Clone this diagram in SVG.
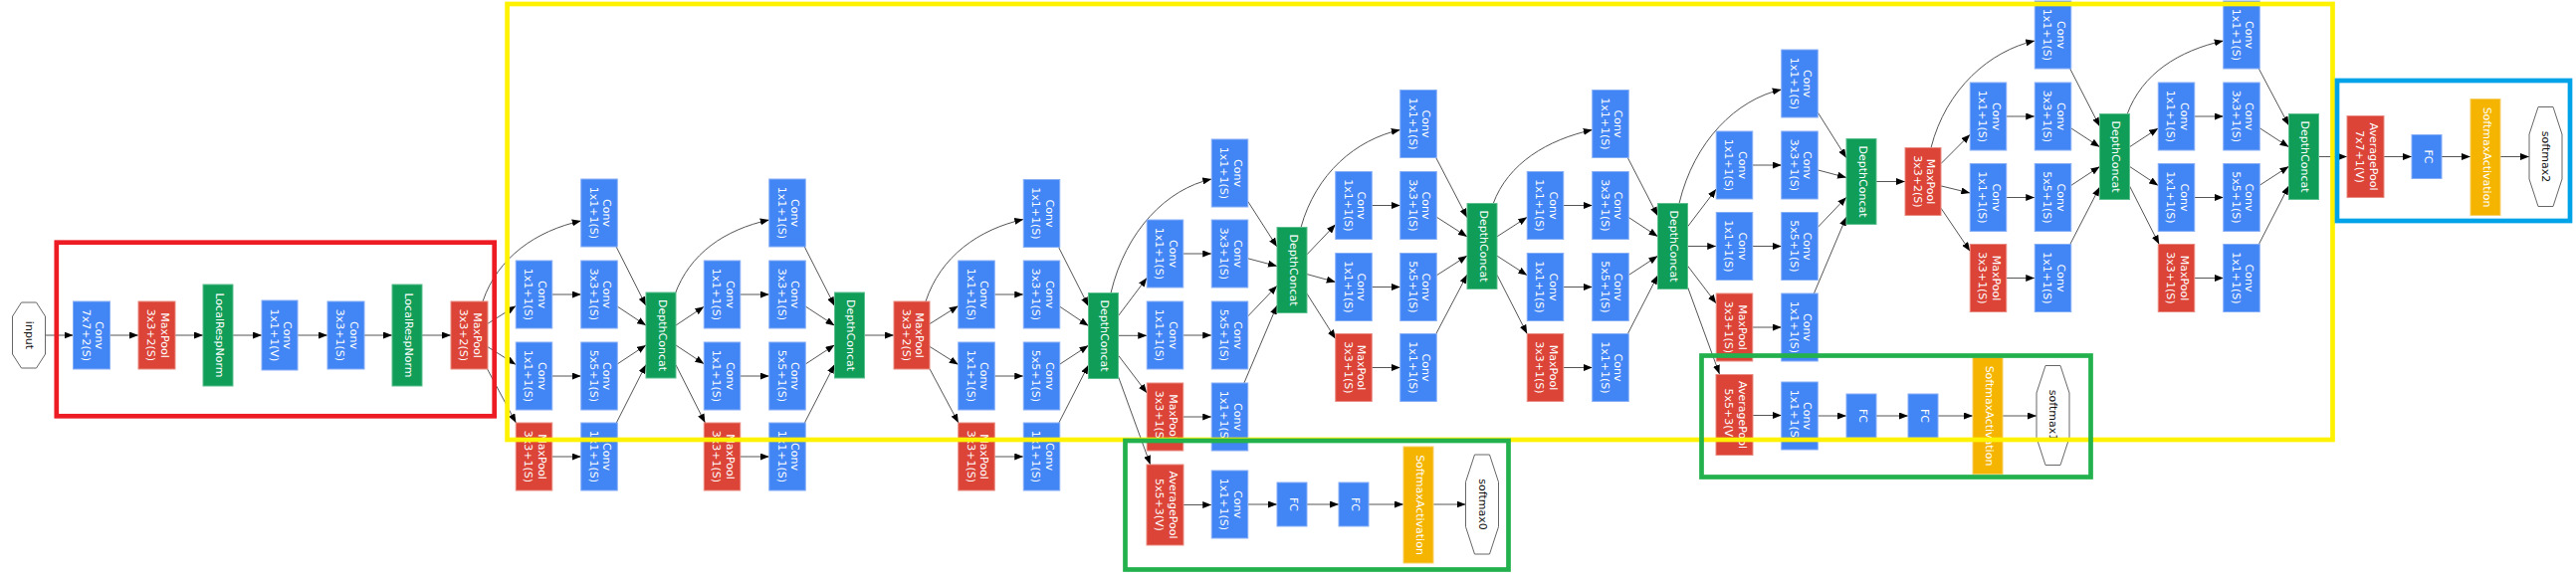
<svg xmlns="http://www.w3.org/2000/svg" width="2588" height="580" viewBox="0 0 2588 580">
<defs>
<style>
.conv{fill:#4285F4;stroke:#86AEF7;stroke-width:1}
.pool{fill:#DB4437;stroke:#E98A80;stroke-width:1}
.cat{fill:#0F9D58;stroke:#5DBE8E;stroke-width:1}
.sm{fill:#F4B400;stroke:#F8CF66;stroke-width:1}
.oct{fill:#fff;stroke:#666;stroke-width:1}
.t{font-family:"DejaVu Sans",Verdana,sans-serif;font-size:11px;fill:#fff;text-anchor:middle}
.to{fill:#111}
.e{fill:none;stroke:#555;stroke-width:1;marker-end:url(#a)}
.box{fill:none;stroke-width:4.7}
</style>
<marker id="a" markerWidth="9" markerHeight="7" refX="9" refY="3.5" orient="auto" markerUnits="userSpaceOnUse"><path d="M0,0L9,3.5L0,7z" fill="#000"/></marker>
<polygon id="oc66" points="-7.5,-33 7.5,-33 16.5,-19 16.5,19 7.5,33 -7.5,33 -16.5,19 -16.5,-19"/>
<polygon id="oc100" points="-7.5,-50 7.5,-50 16.5,-22.5 16.5,22.5 7.5,50 -7.5,50 -16.5,22.5 -16.5,-22.5"/>
</defs>
<rect width="2588" height="580" fill="#fff"/>

<g id="edges">
<path class="e" d="M45.5,337H73.5"/>
<path class="e" d="M110.5,337H139"/>
<path class="e" d="M176,337H204"/>
<path class="e" d="M234,337H263"/>
<path class="e" d="M299,337H329"/>
<path class="e" d="M366,337H394"/>
<path class="e" d="M424,337H453"/>
<path class="e" d="M490,325.3L518.25,307.5"/>
<path class="e" d="M490,348.7L518.25,366.5"/>
<path class="e" d="M489.6,371L518.4,425"/>
<path class="e" d="M485,303C500,258.5 538.75,232 583.75,222"/>
<path class="e" d="M554.75,296H583.75"/>
<path class="e" d="M554.75,378H583.75"/>
<path class="e" d="M554.75,459H583.75"/>
<path class="e" d="M619.1,248L649,307.2"/>
<path class="e" d="M620.25,308.1L649,327.1"/>
<path class="e" d="M620.25,365.9L649,346.9"/>
<path class="e" d="M619.3,425L649,366.5"/>
<path class="e" d="M679,327L707.25,308.2"/>
<path class="e" d="M679,347L707.25,365.8"/>
<path class="e" d="M679,366.8L708.4,425"/>
<path class="e" d="M678,296C693,254.75 727.75,231 772.75,221"/>
<path class="e" d="M743.75,296H772.75"/>
<path class="e" d="M743.75,378H772.75"/>
<path class="e" d="M743.75,459H772.75"/>
<path class="e" d="M808.3,248L838.5,307.5"/>
<path class="e" d="M809.25,308L838.5,327.2"/>
<path class="e" d="M809.25,366L838.5,346.8"/>
<path class="e" d="M808.4,425L838.5,366.3"/>
<path class="e" d="M868.5,337H898"/>
<path class="e" d="M934,325.6L962.75,307.5"/>
<path class="e" d="M934,348.4L962.75,366.5"/>
<path class="e" d="M934,370.8L962.9,425"/>
<path class="e" d="M930,303C945,257.6 983.25,230.5 1028.25,220.5"/>
<path class="e" d="M999.25,296H1028.25"/>
<path class="e" d="M999.25,378H1028.25"/>
<path class="e" d="M999.25,459H1028.25"/>
<path class="e" d="M1063.6,248.5L1093.5,307.7"/>
<path class="e" d="M1064.75,308.2L1093.5,327.5"/>
<path class="e" d="M1064.75,366.1L1093.5,347.3"/>
<path class="e" d="M1063.85,425L1093.5,366.9"/>
<path class="e" d="M1123.5,317.5L1152.25,279.3"/>
<path class="e" d="M1123.5,337.3H1152.25"/>
<path class="e" d="M1123.5,357.2L1152.25,395"/>
<path class="e" d="M1123.5,378.6L1155.7,467"/>
<path class="e" d="M1116,294.5C1131,231.5 1172.25,190 1217.25,180"/>
<path class="e" d="M1188.75,255H1217.25"/>
<path class="e" d="M1188.75,337H1217.25"/>
<path class="e" d="M1188.75,419H1217.25"/>
<path class="e" d="M1253.75,202.5L1283,248.1"/>
<path class="e" d="M1253.75,259.8L1283,267.5"/>
<path class="e" d="M1253.75,317.9L1283,287.2"/>
<path class="e" d="M1249.9,385L1283,306.9"/>
<path class="e" d="M1189,507.5H1217.25"/>
<path class="e" d="M1253.75,507H1283"/>
<path class="e" d="M1313,507H1345"/>
<path class="e" d="M1375,507H1410"/>
<path class="e" d="M1440,507H1472.5"/>
<path class="e" d="M1313,255.8L1341.75,225.6"/>
<path class="e" d="M1313,275.6L1341.75,283.5"/>
<path class="e" d="M1313,295.2L1341.75,340.6"/>
<path class="e" d="M1307,228.5C1322,174.6 1361.75,140.5 1406.75,130.5"/>
<path class="e" d="M1378.25,206.5H1406.75"/>
<path class="e" d="M1378.25,288.5H1406.75"/>
<path class="e" d="M1378.25,369.5H1406.75"/>
<path class="e" d="M1442.7,158.5L1474,218.7"/>
<path class="e" d="M1443.25,218.2L1474,237.9"/>
<path class="e" d="M1443.25,276.8L1474,257.1"/>
<path class="e" d="M1442.8,335.5L1474,276.1"/>
<path class="e" d="M1504,237.8L1534.25,218.3"/>
<path class="e" d="M1504,257.2L1534.25,276.7"/>
<path class="e" d="M1504,276.3L1534.2,335.5"/>
<path class="e" d="M1500,205C1515,164 1554.75,140.5 1599.75,130.5"/>
<path class="e" d="M1570.75,206.5H1599.75"/>
<path class="e" d="M1570.75,288.5H1599.75"/>
<path class="e" d="M1570.75,369.5H1599.75"/>
<path class="e" d="M1635.3,158.5L1665.5,217"/>
<path class="e" d="M1636.25,218.5L1665.5,237.7"/>
<path class="e" d="M1636.25,276.5L1665.5,257.3"/>
<path class="e" d="M1635.4,335.5L1665.5,276.8"/>
<path class="e" d="M1695.5,227.8L1724.25,190"/>
<path class="e" d="M1695.5,247.5H1724.25"/>
<path class="e" d="M1695.5,267.2L1724.25,305"/>
<path class="e" d="M1695.5,288.5L1727.5,376"/>
<path class="e" d="M1687,204.5C1702,141.5 1744.75,100 1789.75,90"/>
<path class="e" d="M1760.75,166H1789.75"/>
<path class="e" d="M1760.75,247.5H1789.75"/>
<path class="e" d="M1760.75,329H1789.75"/>
<path class="e" d="M1826.25,113L1855,158.7"/>
<path class="e" d="M1826.25,170.9L1855,178.5"/>
<path class="e" d="M1826.25,228.4L1855,198.2"/>
<path class="e" d="M1822.4,295L1855,217.9"/>
<path class="e" d="M1761,417.5H1789.75"/>
<path class="e" d="M1826.25,418H1855"/>
<path class="e" d="M1885,418H1917"/>
<path class="e" d="M1947,418H1982"/>
<path class="e" d="M2012,418H2046"/>
<path class="e" d="M1885,182.5H1914"/>
<path class="e" d="M1950,164.5L1979.25,135.2"/>
<path class="e" d="M1950,186.9L1979.25,194"/>
<path class="e" d="M1950,209.2L1979.25,252.5"/>
<path class="e" d="M1940,148.5C1955,89.4 1999.25,51 2044.25,41"/>
<path class="e" d="M2015.75,117H2044.25"/>
<path class="e" d="M2015.75,198.5H2044.25"/>
<path class="e" d="M2015.75,279.5H2044.25"/>
<path class="e" d="M2079.7,69L2109.5,127.1"/>
<path class="e" d="M2080.75,128.9L2109.5,147.7"/>
<path class="e" d="M2080.75,186.4L2109.5,167.4"/>
<path class="e" d="M2079.8,245.5L2109.5,188"/>
<path class="e" d="M2139.5,147.7L2168.25,128.9"/>
<path class="e" d="M2139.5,167.4L2168.25,186.4"/>
<path class="e" d="M2139.5,187L2169.2,245.5"/>
<path class="e" d="M2137,115C2152,74 2188.75,51 2233.75,41"/>
<path class="e" d="M2204.75,117H2233.75"/>
<path class="e" d="M2204.75,198.5H2233.75"/>
<path class="e" d="M2204.75,279.5H2233.75"/>
<path class="e" d="M2269.35,69L2299.5,126.1"/>
<path class="e" d="M2270.25,128.8L2299.5,147.8"/>
<path class="e" d="M2270.25,186.2L2299.5,167.2"/>
<path class="e" d="M2269.4,245.5L2299.5,186.8"/>
<path class="e" d="M2329.5,157.5H2358"/>
<path class="e" d="M2395,157.5H2423"/>
<path class="e" d="M2453,157.5H2482"/>
<path class="e" d="M2512,157.5H2541"/>
</g>

<g id="stem">
<g id="input"><use href="#oc66" class="oct" transform="translate(29,337)"/><text class="t to" transform="translate(29,337) rotate(90)" y="3.5">input</text></g>
<g id="conv1"><rect class="conv" x="73.5" y="303" width="37" height="68"/><text class="t" transform="translate(92,337) rotate(90)"><tspan x="0" y="-4.25">Conv</tspan><tspan x="0" y="9.25">7x7+2(S)</tspan></text></g>
<g id="pool1"><rect class="pool" x="139" y="303" width="37" height="68"/><text class="t" transform="translate(157.5,337) rotate(90)"><tspan x="0" y="-4.25">MaxPool</tspan><tspan x="0" y="9.25">3x3+2(S)</tspan></text></g>
<g id="lrn1"><rect class="cat" x="204" y="286" width="30" height="102"/><text class="t" transform="translate(219,337) rotate(90)" y="2.5">LocalRespNorm</text></g>
<g id="conv2"><rect class="conv" x="263" y="302" width="36" height="70"/><text class="t" transform="translate(281,337) rotate(90)"><tspan x="0" y="-4.25">Conv</tspan><tspan x="0" y="9.25">1x1+1(V)</tspan></text></g>
<g id="conv3"><rect class="conv" x="329" y="303" width="37" height="68"/><text class="t" transform="translate(347.5,337) rotate(90)"><tspan x="0" y="-4.25">Conv</tspan><tspan x="0" y="9.25">3x3+1(S)</tspan></text></g>
<g id="lrn2"><rect class="cat" x="394" y="286" width="30" height="102"/><text class="t" transform="translate(409,337) rotate(90)" y="2.5">LocalRespNorm</text></g>
<g id="pool2"><rect class="pool" x="453" y="303" width="37" height="68"/><text class="t" transform="translate(471.5,337) rotate(90)"><tspan x="0" y="-4.25">MaxPool</tspan><tspan x="0" y="9.25">3x3+2(S)</tspan></text></g>
</g>

<g id="inc3a">
<g id="i3a_b1"><rect class="conv" x="583.75" y="180" width="36.5" height="68"/><text class="t" transform="translate(602,214) rotate(90)"><tspan x="0" y="-4.25">Conv</tspan><tspan x="0" y="9.25">1x1+1(S)</tspan></text></g>
<g id="i3a_b2a"><rect class="conv" x="518.25" y="262" width="36.5" height="68"/><text class="t" transform="translate(536.5,296) rotate(90)"><tspan x="0" y="-4.25">Conv</tspan><tspan x="0" y="9.25">1x1+1(S)</tspan></text></g>
<g id="i3a_b2b"><rect class="conv" x="583.75" y="262" width="36.5" height="68"/><text class="t" transform="translate(602,296) rotate(90)"><tspan x="0" y="-4.25">Conv</tspan><tspan x="0" y="9.25">3x3+1(S)</tspan></text></g>
<g id="i3a_b3a"><rect class="conv" x="518.25" y="344" width="36.5" height="68"/><text class="t" transform="translate(536.5,378) rotate(90)"><tspan x="0" y="-4.25">Conv</tspan><tspan x="0" y="9.25">1x1+1(S)</tspan></text></g>
<g id="i3a_b3b"><rect class="conv" x="583.75" y="344" width="36.5" height="68"/><text class="t" transform="translate(602,378) rotate(90)"><tspan x="0" y="-4.25">Conv</tspan><tspan x="0" y="9.25">5x5+1(S)</tspan></text></g>
<g id="i3a_b4a"><rect class="pool" x="518.25" y="425" width="36.5" height="68"/><text class="t" transform="translate(536.5,459) rotate(90)"><tspan x="0" y="-4.25">MaxPool</tspan><tspan x="0" y="9.25">3x3+1(S)</tspan></text></g>
<g id="i3a_b4b"><rect class="conv" x="583.75" y="425" width="36.5" height="68"/><text class="t" transform="translate(602,459) rotate(90)"><tspan x="0" y="-4.25">Conv</tspan><tspan x="0" y="9.25">1x1+1(S)</tspan></text></g>
<g id="i3a_cat"><rect class="cat" x="649" y="294" width="30" height="86"/><text class="t" transform="translate(664,337) rotate(90)" y="2.5">DepthConcat</text></g>
</g>

<g id="inc3b">
<g id="i3b_b1"><rect class="conv" x="772.75" y="180" width="36.5" height="68"/><text class="t" transform="translate(791,214) rotate(90)"><tspan x="0" y="-4.25">Conv</tspan><tspan x="0" y="9.25">1x1+1(S)</tspan></text></g>
<g id="i3b_b2a"><rect class="conv" x="707.25" y="262" width="36.5" height="68"/><text class="t" transform="translate(725.5,296) rotate(90)"><tspan x="0" y="-4.25">Conv</tspan><tspan x="0" y="9.25">1x1+1(S)</tspan></text></g>
<g id="i3b_b2b"><rect class="conv" x="772.75" y="262" width="36.5" height="68"/><text class="t" transform="translate(791,296) rotate(90)"><tspan x="0" y="-4.25">Conv</tspan><tspan x="0" y="9.25">3x3+1(S)</tspan></text></g>
<g id="i3b_b3a"><rect class="conv" x="707.25" y="344" width="36.5" height="68"/><text class="t" transform="translate(725.5,378) rotate(90)"><tspan x="0" y="-4.25">Conv</tspan><tspan x="0" y="9.25">1x1+1(S)</tspan></text></g>
<g id="i3b_b3b"><rect class="conv" x="772.75" y="344" width="36.5" height="68"/><text class="t" transform="translate(791,378) rotate(90)"><tspan x="0" y="-4.25">Conv</tspan><tspan x="0" y="9.25">5x5+1(S)</tspan></text></g>
<g id="i3b_b4a"><rect class="pool" x="707.25" y="425" width="36.5" height="68"/><text class="t" transform="translate(725.5,459) rotate(90)"><tspan x="0" y="-4.25">MaxPool</tspan><tspan x="0" y="9.25">3x3+1(S)</tspan></text></g>
<g id="i3b_b4b"><rect class="conv" x="772.75" y="425" width="36.5" height="68"/><text class="t" transform="translate(791,459) rotate(90)"><tspan x="0" y="-4.25">Conv</tspan><tspan x="0" y="9.25">1x1+1(S)</tspan></text></g>
<g id="i3b_cat"><rect class="cat" x="838.5" y="294" width="30" height="86"/><text class="t" transform="translate(853.5,337) rotate(90)" y="2.5">DepthConcat</text></g>
</g>

<g id="pool3"><rect class="pool" x="898" y="303" width="36" height="68"/><text class="t" transform="translate(916,337) rotate(90)"><tspan x="0" y="-4.25">MaxPool</tspan><tspan x="0" y="9.25">3x3+2(S)</tspan></text></g>

<g id="inc4a">
<g id="i4a_b1"><rect class="conv" x="1028.25" y="180.5" width="36.5" height="68"/><text class="t" transform="translate(1046.5,214.5) rotate(90)"><tspan x="0" y="-4.25">Conv</tspan><tspan x="0" y="9.25">1x1+1(S)</tspan></text></g>
<g id="i4a_b2a"><rect class="conv" x="962.75" y="262" width="36.5" height="68"/><text class="t" transform="translate(981,296) rotate(90)"><tspan x="0" y="-4.25">Conv</tspan><tspan x="0" y="9.25">1x1+1(S)</tspan></text></g>
<g id="i4a_b2b"><rect class="conv" x="1028.25" y="262" width="36.5" height="68"/><text class="t" transform="translate(1046.5,296) rotate(90)"><tspan x="0" y="-4.25">Conv</tspan><tspan x="0" y="9.25">3x3+1(S)</tspan></text></g>
<g id="i4a_b3a"><rect class="conv" x="962.75" y="344" width="36.5" height="68"/><text class="t" transform="translate(981,378) rotate(90)"><tspan x="0" y="-4.25">Conv</tspan><tspan x="0" y="9.25">1x1+1(S)</tspan></text></g>
<g id="i4a_b3b"><rect class="conv" x="1028.25" y="344" width="36.5" height="68"/><text class="t" transform="translate(1046.5,378) rotate(90)"><tspan x="0" y="-4.25">Conv</tspan><tspan x="0" y="9.25">5x5+1(S)</tspan></text></g>
<g id="i4a_b4a"><rect class="pool" x="962.75" y="425" width="36.5" height="68"/><text class="t" transform="translate(981,459) rotate(90)"><tspan x="0" y="-4.25">MaxPool</tspan><tspan x="0" y="9.25">3x3+1(S)</tspan></text></g>
<g id="i4a_b4b"><rect class="conv" x="1028.25" y="425" width="36.5" height="68"/><text class="t" transform="translate(1046.5,459) rotate(90)"><tspan x="0" y="-4.25">Conv</tspan><tspan x="0" y="9.25">1x1+1(S)</tspan></text></g>
<g id="i4a_cat"><rect class="cat" x="1093.5" y="294.5" width="30" height="86"/><text class="t" transform="translate(1108.5,337.5) rotate(90)" y="2.5">DepthConcat</text></g>
</g>

<g id="inc4b">
<g id="i4b_b1"><rect class="conv" x="1217.25" y="140" width="36.5" height="68"/><text class="t" transform="translate(1235.5,174) rotate(90)"><tspan x="0" y="-4.25">Conv</tspan><tspan x="0" y="9.25">1x1+1(S)</tspan></text></g>
<g id="i4b_b2a"><rect class="conv" x="1152.25" y="221" width="36.5" height="68"/><text class="t" transform="translate(1170.5,255) rotate(90)"><tspan x="0" y="-4.25">Conv</tspan><tspan x="0" y="9.25">1x1+1(S)</tspan></text></g>
<g id="i4b_b2b"><rect class="conv" x="1217.25" y="221" width="36.5" height="68"/><text class="t" transform="translate(1235.5,255) rotate(90)"><tspan x="0" y="-4.25">Conv</tspan><tspan x="0" y="9.25">3x3+1(S)</tspan></text></g>
<g id="i4b_b3a"><rect class="conv" x="1152.25" y="303" width="36.5" height="68"/><text class="t" transform="translate(1170.5,337) rotate(90)"><tspan x="0" y="-4.25">Conv</tspan><tspan x="0" y="9.25">1x1+1(S)</tspan></text></g>
<g id="i4b_b3b"><rect class="conv" x="1217.25" y="303" width="36.5" height="68"/><text class="t" transform="translate(1235.5,337) rotate(90)"><tspan x="0" y="-4.25">Conv</tspan><tspan x="0" y="9.25">5x5+1(S)</tspan></text></g>
<g id="i4b_b4a"><rect class="pool" x="1152.25" y="385" width="36.5" height="68"/><text class="t" transform="translate(1170.5,419) rotate(90)"><tspan x="0" y="-4.25">MaxPool</tspan><tspan x="0" y="9.25">3x3+1(S)</tspan></text></g>
<g id="i4b_b4b"><rect class="conv" x="1217.25" y="385" width="36.5" height="68"/><text class="t" transform="translate(1235.5,419) rotate(90)"><tspan x="0" y="-4.25">Conv</tspan><tspan x="0" y="9.25">1x1+1(S)</tspan></text></g>
<g id="i4b_cat"><rect class="cat" x="1283" y="228.5" width="30" height="86"/><text class="t" transform="translate(1298,271.5) rotate(90)" y="2.5">DepthConcat</text></g>
</g>

<g id="aux0">
<g id="aux0_avg"><rect class="pool" x="1152" y="467" width="37" height="81"/><text class="t" transform="translate(1170.5,507.5) rotate(90)"><tspan x="0" y="-4.25">AveragePool</tspan><tspan x="0" y="9.25">5x5+3(V)</tspan></text></g>
<g id="aux0_conv"><rect class="conv" x="1217.25" y="473" width="36.5" height="68"/><text class="t" transform="translate(1235.5,507) rotate(90)"><tspan x="0" y="-4.25">Conv</tspan><tspan x="0" y="9.25">1x1+1(S)</tspan></text></g>
<g id="aux0_fc1"><rect class="conv" x="1283" y="485" width="30" height="44"/><text class="t" transform="translate(1298,507) rotate(90)" y="2.5">FC</text></g>
<g id="aux0_fc2"><rect class="conv" x="1345" y="485" width="30" height="44"/><text class="t" transform="translate(1360,507) rotate(90)" y="2.5">FC</text></g>
<g id="aux0_sa"><rect class="sm" x="1410" y="449" width="30" height="117"/><text class="t" transform="translate(1425,507.5) rotate(90)" y="2.5">SoftmaxActivation</text></g>
<g id="softmax0"><use href="#oc100" class="oct" transform="translate(1489,507)"/><text class="t to" transform="translate(1489,507) rotate(90)" y="3.5">softmax0</text></g>
</g>

<g id="inc4c">
<g id="i4c_b1"><rect class="conv" x="1406.75" y="90.5" width="36.5" height="68"/><text class="t" transform="translate(1425,124.5) rotate(90)"><tspan x="0" y="-4.25">Conv</tspan><tspan x="0" y="9.25">1x1+1(S)</tspan></text></g>
<g id="i4c_b2a"><rect class="conv" x="1341.75" y="172.5" width="36.5" height="68"/><text class="t" transform="translate(1360,206.5) rotate(90)"><tspan x="0" y="-4.25">Conv</tspan><tspan x="0" y="9.25">1x1+1(S)</tspan></text></g>
<g id="i4c_b2b"><rect class="conv" x="1406.75" y="172.5" width="36.5" height="68"/><text class="t" transform="translate(1425,206.5) rotate(90)"><tspan x="0" y="-4.25">Conv</tspan><tspan x="0" y="9.25">3x3+1(S)</tspan></text></g>
<g id="i4c_b3a"><rect class="conv" x="1341.75" y="254.5" width="36.5" height="68"/><text class="t" transform="translate(1360,288.5) rotate(90)"><tspan x="0" y="-4.25">Conv</tspan><tspan x="0" y="9.25">1x1+1(S)</tspan></text></g>
<g id="i4c_b3b"><rect class="conv" x="1406.75" y="254.5" width="36.5" height="68"/><text class="t" transform="translate(1425,288.5) rotate(90)"><tspan x="0" y="-4.25">Conv</tspan><tspan x="0" y="9.25">5x5+1(S)</tspan></text></g>
<g id="i4c_b4a"><rect class="pool" x="1341.75" y="335.5" width="36.5" height="68"/><text class="t" transform="translate(1360,369.5) rotate(90)"><tspan x="0" y="-4.25">MaxPool</tspan><tspan x="0" y="9.25">3x3+1(S)</tspan></text></g>
<g id="i4c_b4b"><rect class="conv" x="1406.75" y="335.5" width="36.5" height="68"/><text class="t" transform="translate(1425,369.5) rotate(90)"><tspan x="0" y="-4.25">Conv</tspan><tspan x="0" y="9.25">1x1+1(S)</tspan></text></g>
<g id="i4c_cat"><rect class="cat" x="1474" y="204.5" width="30" height="86"/><text class="t" transform="translate(1489,247.5) rotate(90)" y="2.5">DepthConcat</text></g>
</g>

<g id="inc4d">
<g id="i4d_b1"><rect class="conv" x="1599.75" y="90.5" width="36.5" height="68"/><text class="t" transform="translate(1618,124.5) rotate(90)"><tspan x="0" y="-4.25">Conv</tspan><tspan x="0" y="9.25">1x1+1(S)</tspan></text></g>
<g id="i4d_b2a"><rect class="conv" x="1534.25" y="172.5" width="36.5" height="68"/><text class="t" transform="translate(1552.5,206.5) rotate(90)"><tspan x="0" y="-4.25">Conv</tspan><tspan x="0" y="9.25">1x1+1(S)</tspan></text></g>
<g id="i4d_b2b"><rect class="conv" x="1599.75" y="172.5" width="36.5" height="68"/><text class="t" transform="translate(1618,206.5) rotate(90)"><tspan x="0" y="-4.25">Conv</tspan><tspan x="0" y="9.25">3x3+1(S)</tspan></text></g>
<g id="i4d_b3a"><rect class="conv" x="1534.25" y="254.5" width="36.5" height="68"/><text class="t" transform="translate(1552.5,288.5) rotate(90)"><tspan x="0" y="-4.25">Conv</tspan><tspan x="0" y="9.25">1x1+1(S)</tspan></text></g>
<g id="i4d_b3b"><rect class="conv" x="1599.75" y="254.5" width="36.5" height="68"/><text class="t" transform="translate(1618,288.5) rotate(90)"><tspan x="0" y="-4.25">Conv</tspan><tspan x="0" y="9.25">5x5+1(S)</tspan></text></g>
<g id="i4d_b4a"><rect class="pool" x="1534.25" y="335.5" width="36.5" height="68"/><text class="t" transform="translate(1552.5,369.5) rotate(90)"><tspan x="0" y="-4.25">MaxPool</tspan><tspan x="0" y="9.25">3x3+1(S)</tspan></text></g>
<g id="i4d_b4b"><rect class="conv" x="1599.75" y="335.5" width="36.5" height="68"/><text class="t" transform="translate(1618,369.5) rotate(90)"><tspan x="0" y="-4.25">Conv</tspan><tspan x="0" y="9.25">1x1+1(S)</tspan></text></g>
<g id="i4d_cat"><rect class="cat" x="1665.5" y="204.5" width="30" height="86"/><text class="t" transform="translate(1680.5,247.5) rotate(90)" y="2.5">DepthConcat</text></g>
</g>

<g id="inc4e">
<g id="i4e_b1"><rect class="conv" x="1789.75" y="50" width="36.5" height="68"/><text class="t" transform="translate(1808,84) rotate(90)"><tspan x="0" y="-4.25">Conv</tspan><tspan x="0" y="9.25">1x1+1(S)</tspan></text></g>
<g id="i4e_b2a"><rect class="conv" x="1724.25" y="132" width="36.5" height="68"/><text class="t" transform="translate(1742.5,166) rotate(90)"><tspan x="0" y="-4.25">Conv</tspan><tspan x="0" y="9.25">1x1+1(S)</tspan></text></g>
<g id="i4e_b2b"><rect class="conv" x="1789.75" y="132" width="36.5" height="68"/><text class="t" transform="translate(1808,166) rotate(90)"><tspan x="0" y="-4.25">Conv</tspan><tspan x="0" y="9.25">3x3+1(S)</tspan></text></g>
<g id="i4e_b3a"><rect class="conv" x="1724.25" y="213.5" width="36.5" height="68"/><text class="t" transform="translate(1742.5,247.5) rotate(90)"><tspan x="0" y="-4.25">Conv</tspan><tspan x="0" y="9.25">1x1+1(S)</tspan></text></g>
<g id="i4e_b3b"><rect class="conv" x="1789.75" y="213.5" width="36.5" height="68"/><text class="t" transform="translate(1808,247.5) rotate(90)"><tspan x="0" y="-4.25">Conv</tspan><tspan x="0" y="9.25">5x5+1(S)</tspan></text></g>
<g id="i4e_b4a"><rect class="pool" x="1724.25" y="295" width="36.5" height="68"/><text class="t" transform="translate(1742.5,329) rotate(90)"><tspan x="0" y="-4.25">MaxPool</tspan><tspan x="0" y="9.25">3x3+1(S)</tspan></text></g>
<g id="i4e_b4b"><rect class="conv" x="1789.75" y="295" width="36.5" height="68"/><text class="t" transform="translate(1808,329) rotate(90)"><tspan x="0" y="-4.25">Conv</tspan><tspan x="0" y="9.25">1x1+1(S)</tspan></text></g>
<g id="i4e_cat"><rect class="cat" x="1855" y="139.5" width="30" height="86"/><text class="t" transform="translate(1870,182.5) rotate(90)" y="2.5">DepthConcat</text></g>
</g>

<g id="aux1">
<g id="aux1_avg"><rect class="pool" x="1724" y="376.5" width="37" height="81"/><text class="t" transform="translate(1742.5,417) rotate(90)"><tspan x="0" y="-4.25">AveragePool</tspan><tspan x="0" y="9.25">5x5+3(V)</tspan></text></g>
<g id="aux1_conv"><rect class="conv" x="1789.75" y="384" width="36.5" height="68"/><text class="t" transform="translate(1808,418) rotate(90)"><tspan x="0" y="-4.25">Conv</tspan><tspan x="0" y="9.25">1x1+1(S)</tspan></text></g>
<g id="aux1_fc1"><rect class="conv" x="1855" y="396" width="30" height="44"/><text class="t" transform="translate(1870,418) rotate(90)" y="2.5">FC</text></g>
<g id="aux1_fc2"><rect class="conv" x="1917" y="396" width="30" height="44"/><text class="t" transform="translate(1932,418) rotate(90)" y="2.5">FC</text></g>
<g id="aux1_sa"><rect class="sm" x="1982" y="359.5" width="30" height="117"/><text class="t" transform="translate(1997,418) rotate(90)" y="2.5">SoftmaxActivation</text></g>
<g id="softmax1"><use href="#oc100" class="oct" transform="translate(2062.5,417.5)"/><text class="t to" transform="translate(2062.5,417.5) rotate(90)" y="3.5">softmax1</text></g>
</g>

<g id="pool4"><rect class="pool" x="1914" y="148.5" width="36" height="68"/><text class="t" transform="translate(1932,182.5) rotate(90)"><tspan x="0" y="-4.25">MaxPool</tspan><tspan x="0" y="9.25">3x3+2(S)</tspan></text></g>

<g id="inc5a">
<g id="i5a_b1"><rect class="conv" x="2044.25" y="1" width="36.5" height="68"/><text class="t" transform="translate(2062.5,35) rotate(90)"><tspan x="0" y="-4.25">Conv</tspan><tspan x="0" y="9.25">1x1+1(S)</tspan></text></g>
<g id="i5a_b2a"><rect class="conv" x="1979.25" y="83" width="36.5" height="68"/><text class="t" transform="translate(1997.5,117) rotate(90)"><tspan x="0" y="-4.25">Conv</tspan><tspan x="0" y="9.25">1x1+1(S)</tspan></text></g>
<g id="i5a_b2b"><rect class="conv" x="2044.25" y="83" width="36.5" height="68"/><text class="t" transform="translate(2062.5,117) rotate(90)"><tspan x="0" y="-4.25">Conv</tspan><tspan x="0" y="9.25">3x3+1(S)</tspan></text></g>
<g id="i5a_b3a"><rect class="conv" x="1979.25" y="164.5" width="36.5" height="68"/><text class="t" transform="translate(1997.5,198.5) rotate(90)"><tspan x="0" y="-4.25">Conv</tspan><tspan x="0" y="9.25">1x1+1(S)</tspan></text></g>
<g id="i5a_b3b"><rect class="conv" x="2044.25" y="164.5" width="36.5" height="68"/><text class="t" transform="translate(2062.5,198.5) rotate(90)"><tspan x="0" y="-4.25">Conv</tspan><tspan x="0" y="9.25">5x5+1(S)</tspan></text></g>
<g id="i5a_b4a"><rect class="pool" x="1979.25" y="245.5" width="36.5" height="68"/><text class="t" transform="translate(1997.5,279.5) rotate(90)"><tspan x="0" y="-4.25">MaxPool</tspan><tspan x="0" y="9.25">3x3+1(S)</tspan></text></g>
<g id="i5a_b4b"><rect class="conv" x="2044.25" y="245.5" width="36.5" height="68"/><text class="t" transform="translate(2062.5,279.5) rotate(90)"><tspan x="0" y="-4.25">Conv</tspan><tspan x="0" y="9.25">1x1+1(S)</tspan></text></g>
<g id="i5a_cat"><rect class="cat" x="2109.5" y="114.5" width="30" height="86"/><text class="t" transform="translate(2124.5,157.5) rotate(90)" y="2.5">DepthConcat</text></g>
</g>

<g id="inc5b">
<g id="i5b_b1"><rect class="conv" x="2233.75" y="1" width="36.5" height="68"/><text class="t" transform="translate(2252,35) rotate(90)"><tspan x="0" y="-4.25">Conv</tspan><tspan x="0" y="9.25">1x1+1(S)</tspan></text></g>
<g id="i5b_b2a"><rect class="conv" x="2168.25" y="83" width="36.5" height="68"/><text class="t" transform="translate(2186.5,117) rotate(90)"><tspan x="0" y="-4.25">Conv</tspan><tspan x="0" y="9.25">1x1+1(S)</tspan></text></g>
<g id="i5b_b2b"><rect class="conv" x="2233.75" y="83" width="36.5" height="68"/><text class="t" transform="translate(2252,117) rotate(90)"><tspan x="0" y="-4.25">Conv</tspan><tspan x="0" y="9.25">3x3+1(S)</tspan></text></g>
<g id="i5b_b3a"><rect class="conv" x="2168.25" y="164.5" width="36.5" height="68"/><text class="t" transform="translate(2186.5,198.5) rotate(90)"><tspan x="0" y="-4.25">Conv</tspan><tspan x="0" y="9.25">1x1+1(S)</tspan></text></g>
<g id="i5b_b3b"><rect class="conv" x="2233.75" y="164.5" width="36.5" height="68"/><text class="t" transform="translate(2252,198.5) rotate(90)"><tspan x="0" y="-4.25">Conv</tspan><tspan x="0" y="9.25">5x5+1(S)</tspan></text></g>
<g id="i5b_b4a"><rect class="pool" x="2168.25" y="245.5" width="36.5" height="68"/><text class="t" transform="translate(2186.5,279.5) rotate(90)"><tspan x="0" y="-4.25">MaxPool</tspan><tspan x="0" y="9.25">3x3+1(S)</tspan></text></g>
<g id="i5b_b4b"><rect class="conv" x="2233.75" y="245.5" width="36.5" height="68"/><text class="t" transform="translate(2252,279.5) rotate(90)"><tspan x="0" y="-4.25">Conv</tspan><tspan x="0" y="9.25">1x1+1(S)</tspan></text></g>
<g id="i5b_cat"><rect class="cat" x="2299.5" y="114.5" width="30" height="86"/><text class="t" transform="translate(2314.5,157.5) rotate(90)" y="2.5">DepthConcat</text></g>
</g>

<g id="head">
<g id="head_avg"><rect class="pool" x="2358" y="116.5" width="37" height="82"/><text class="t" transform="translate(2376.5,157.5) rotate(90)"><tspan x="0" y="-4.25">AveragePool</tspan><tspan x="0" y="9.25">7x7+1(V)</tspan></text></g>
<g id="head_fc"><rect class="conv" x="2423" y="135.5" width="30" height="44"/><text class="t" transform="translate(2438,157.5) rotate(90)" y="2.5">FC</text></g>
<g id="head_sa"><rect class="sm" x="2482" y="99.5" width="30" height="117"/><text class="t" transform="translate(2497,158) rotate(90)" y="2.5">SoftmaxActivation</text></g>
<g id="softmax2"><use href="#oc100" class="oct" transform="translate(2557.5,157.5)"/><text class="t to" transform="translate(2557.5,157.5) rotate(90)" y="3.5">softmax2</text></g>
</g>

<g id="boxes">
<rect class="box" x="56.8" y="243.7" width="439.9" height="174.6" stroke="#ED1C24"/>
<rect class="box" x="509.6" y="4" width="1833.9" height="438" stroke="#FFF200"/>
<rect class="box" x="1130.5" y="443" width="385" height="129.5" stroke="#22B14C"/>
<rect class="box" x="1709.5" y="357.5" width="391" height="122" stroke="#22B14C"/>
<rect class="box" x="2348" y="81" width="234" height="141" stroke="#00A2E8"/>
</g>
</svg>
